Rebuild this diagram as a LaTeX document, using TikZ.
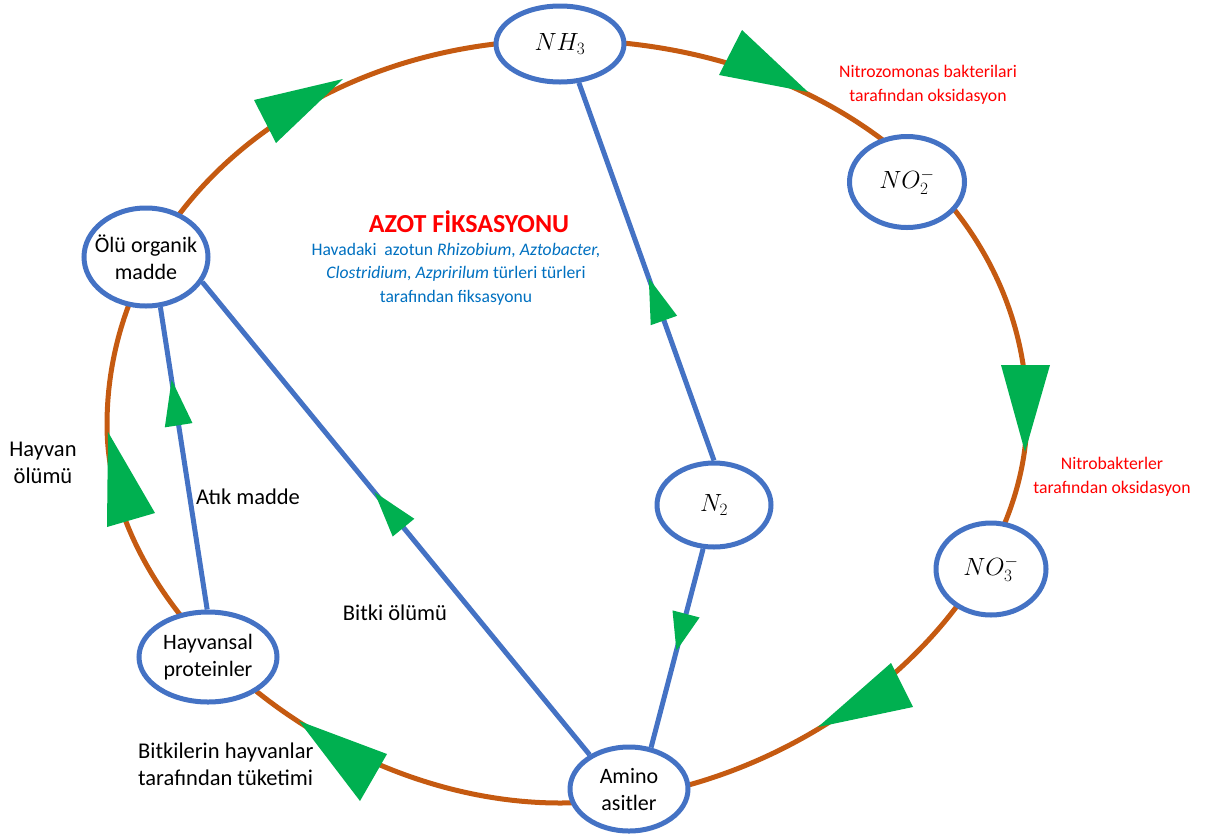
\documentclass[tikz,border=0pt]{standalone}
\usepackage{fontspec}
\setmainfont{Carlito}
\usetikzlibrary{shapes.geometric,decorations.markings,backgrounds}
\definecolor{cyc}{HTML}{C55A11}
\definecolor{nblue}{HTML}{4472C4}
\definecolor{agreen}{HTML}{00B050}
\definecolor{tblue}{HTML}{0070C0}
\definecolor{tred}{HTML}{FF0000}
\tikzset{
  vnode/.style={ellipse, draw=nblue, line width=5pt, fill=white, inner sep=-14pt, align=center, font=\fontsize{22}{27}\selectfont},
  mnode/.style={vnode, font=\fontsize{26.5}{30}\selectfont},
  link/.style={draw=nblue, line width=5pt},
  cycline/.style={draw=cyc, line width=5pt},
  note/.style={font=\fontsize{22.5}{27}\selectfont, align=center, inner sep=0pt},
  rnote/.style={font=\fontsize{17.7}{24}\selectfont, text=tred, align=center, inner sep=0pt},
  bnote/.style={font=\fontsize{17.6}{23.5}\selectfont, text=tblue, align=center, inner sep=0pt},
  midtip/.style n args={3}{postaction={decorate}, decoration={markings, mark=at position #1 with {\fill[agreen] (0,0) -- (-#2,#3) -- (-#2,-#3) -- cycle;}}}
}
\begin{document}
\begin{tikzpicture}[x=1pt,y=-1pt]
\useasboundingbox (0,0) rectangle (1210,839);

% nodes
\node[mnode, minimum width=128pt, minimum height=76pt] (nh3) at (560,44) {$NH_3$};
\node[mnode, minimum width=115pt, minimum height=91pt] (no2) at (907,182) {$NO_2^-$};
\node[mnode, minimum width=110pt, minimum height=92pt] (no3) at (991,569) {$NO_3^-$};
\node[mnode, minimum width=114pt, minimum height=84pt] (n2) at (714,505) {$N_2$};
\node[vnode, minimum width=124pt, minimum height=98pt] (olu) at (146,257) {Ölü organik\\madde};
\node[vnode, minimum width=138pt, minimum height=90pt] (hayv) at (208,657) {Hayvansal\\proteinler};
\node[vnode, minimum width=118pt, minimum height=84pt] (amino) at (629,789) {Amino\\asitler};

\begin{scope}[on background layer]
\draw[cycline] (562,40) .. controls (824.7,40) and (1027,203.1) .. (1027,415)
  .. controls (1027,612.9) and (798.2,803) .. (560,803)
  .. controls (333.5,803) and (107,614) .. (107,425)
  .. controls (107,209.4) and (307.2,40) .. (562,40) -- cycle;
\fill[agreen] (254,100) -- (276,143) -- (343,79) -- cycle;
\fill[agreen] (742,30) -- (719,75) -- (808,92) -- cycle;
\fill[agreen] (1001,365) -- (1050,365) -- (1025,452) -- cycle;
\fill[agreen] (891,663) -- (913,707) -- (818,727) -- cycle;
\fill[agreen] (299,721) -- (387,754) -- (360,801) -- cycle;
\fill[agreen] (108,432) -- (155,513) -- (107,527) -- cycle;
\end{scope}

% connectors
\draw[link, midtip={0.76}{46}{14}] (hayv.91) -- (olu.-74);
\draw[link, midtip={0.556}{46}{14}] (amino.139) -- (olu.-24);
\draw[link, midtip={0.483}{45}{14}] (n2.90) -- (nh3.-64);
\draw[link, midtip={0.513}{38}{14}] (n2.-104) -- (amino.62);

% texts
\node[rnote] (t1) at (928,85) {Nitrozomonas bakterilari\\tarafından oksidasyon};
\node[rnote] (t2) at (1112,477) {Nitrobakterler\\tarafından oksidasyon};
\node[font=\fontsize{26}{30}\selectfont\bfseries, text=tred, inner sep=0pt] (t3) at (469,222) {AZOT FİKSASYONU};
\node[bnote] (t4) at (456,274) {Havadaki\ \ azotun \textit{Rhizobium, Aztobacter,}\\\textit{Clostridium, Azpririlum} türleri türleri\\tarafından fiksasyonu};
\node[note] (t5) at (43,463) {Hayvan\\ölümü};
\node[note] (t6) at (248,497) {Atık madde};
\node[note] (t7) at (395,613) {Bitki ölümü};
\node[note, align=left, anchor=west] (t8) at (138,764) {Bitkilerin hayvanlar\\tarafından tüketimi};
\end{tikzpicture}
\end{document}
